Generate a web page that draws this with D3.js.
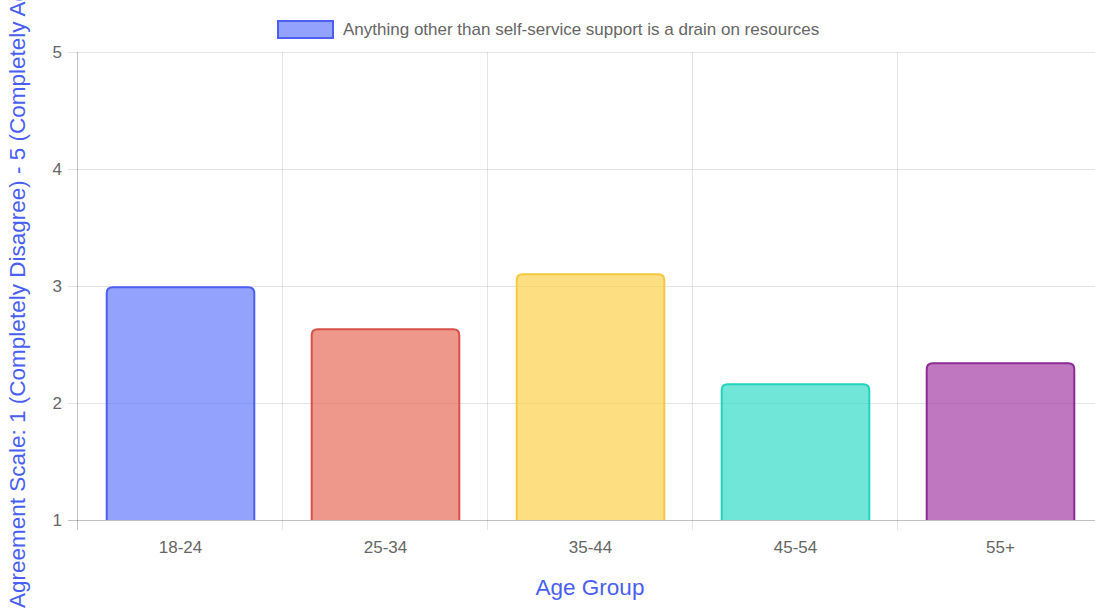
<!DOCTYPE html>
<html>
<head>
<meta charset="utf-8">
<script src="https://cdn.jsdelivr.net/npm/d3@7"></script>
<style>
  html, body { margin: 0; padding: 0; background: #fff; }
  svg { display: block; font-family: "Liberation Sans", Arial, Helvetica, sans-serif; }
</style>
</head>
<body>
<svg id="chart" width="1095" height="614"></svg>
<script>
const categories = ["18-24", "25-34", "35-44", "45-54", "55+"];
const values = [2.99, 2.63, 3.10, 2.16, 2.34];
const fillColors = ["rgba(75,100,250,0.6)", "rgba(227,83,63,0.6)", "rgba(251,200,43,0.6)", "rgba(17,213,190,0.6)", "rgba(148,28,148,0.6)"];
const strokeColors = ["#4c5ff0", "#d8504a", "#f5c842", "#22d3bc", "#8e2a94"];
const yTicks = [1, 2, 3, 4, 5];
const seriesLabel = "Anything other than self-service support is a drain on resources";
const xTitle = "Age Group";
const yTitle = "Agreement Scale: 1 (Completely Disagree) - 5 (Completely Agree)";

(function () {
const svg = d3.select("#chart");
const pLeft = 78, pRight = 1103, pTop = 52, pBottom = 520;

const x = d3.scaleBand().domain(categories).range([pLeft, pRight]).paddingInner(0).paddingOuter(0);
const y = d3.scaleLinear().domain([1, 5]).range([pBottom, pTop]);

const grid = "rgba(0,0,0,0.1)";
svg.append("g").selectAll("line").data(yTicks).join("line")
  .attr("x1", pLeft - 10).attr("x2", pRight)
  .attr("y1", d => y(d) + 0.5).attr("y2", d => y(d) + 0.5)
  .attr("stroke", grid).attr("stroke-width", 1);
const xEdges = categories.map(c => x(c)).concat([pRight]);
svg.append("g").selectAll("line").data(xEdges).join("line")
  .attr("x1", d => Math.round(d) - 0.5).attr("x2", d => Math.round(d) - 0.5)
  .attr("y1", pTop).attr("y2", pBottom + 10)
  .attr("stroke", grid).attr("stroke-width", 1);
svg.append("line").attr("x1", pLeft - 0.5).attr("x2", pLeft - 0.5).attr("y1", pTop).attr("y2", pBottom + 10)
  .attr("stroke", "rgba(0,0,0,0.15)");
svg.append("line").attr("x1", pLeft - 10).attr("x2", pRight).attr("y1", pBottom + 0.5).attr("y2", pBottom + 0.5)
  .attr("stroke", "rgba(0,0,0,0.15)");

const barW = x.bandwidth() * 0.72;
const r = 6;
function barPath(x0, y0, w, h) {
  const rr = Math.min(r, w / 2, h);
  return `M${x0},${y0 + h}V${y0 + rr}Q${x0},${y0} ${x0 + rr},${y0}H${x0 + w - rr}Q${x0 + w},${y0} ${x0 + w},${y0 + rr}V${y0 + h}`;
}
svg.append("g").selectAll("path").data(values).join("path")
  .attr("d", (d, i) => {
    const cx = x(categories[i]) + x.bandwidth() / 2;
    const yt = y(d);
    return barPath(cx - barW / 2, yt, barW, y(1) - yt);
  })
  .attr("fill", (d, i) => fillColors[i])
  .attr("stroke", (d, i) => strokeColors[i])
  .attr("stroke-width", 2);

svg.append("g").selectAll("text").data(yTicks).join("text")
  .attr("x", 62).attr("y", d => y(d))
  .attr("dy", "0.35em").attr("text-anchor", "end")
  .attr("font-size", 17).attr("fill", "#666")
  .text(d => d);

svg.append("g").selectAll("text").data(categories).join("text")
  .attr("x", d => x(d) + x.bandwidth() / 2).attr("y", 547)
  .attr("dy", "0.35em").attr("text-anchor", "middle")
  .attr("font-size", 17).attr("fill", "#666")
  .text(d => d);

svg.append("text").attr("x", 590).attr("y", 587).attr("dy", "0.35em")
  .attr("text-anchor", "middle").attr("font-size", 22.5).attr("fill", "#4a5ff0")
  .text(xTitle);
svg.append("text").attr("transform", "translate(17,608) rotate(-90)")
  .attr("dy", "0.35em").attr("text-anchor", "start")
  .attr("font-size", 22.5).attr("fill", "#4a5ff0")
  .text(yTitle);

svg.append("rect").attr("x", 278).attr("y", 21).attr("width", 55).attr("height", 17)
  .attr("fill", fillColors[0]).attr("stroke", strokeColors[0]).attr("stroke-width", 2);
svg.append("text").attr("x", 343).attr("y", 29.5).attr("dy", "0.35em")
  .attr("font-size", 17).attr("fill", "#666")
  .text(seriesLabel);
})();
</script>
</body>
</html>
